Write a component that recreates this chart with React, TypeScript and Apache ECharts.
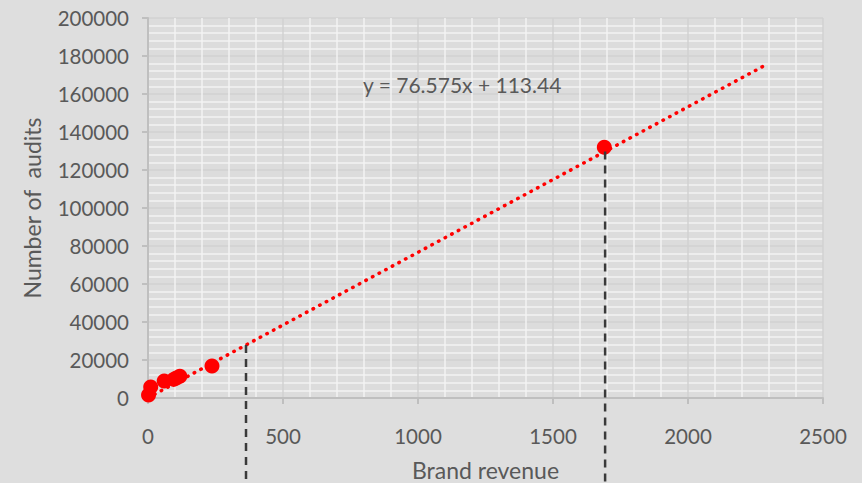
import React, { useEffect, useRef } from "react";
import * as echarts from "echarts";

const brandRevenue = [2, 10, 60, 95, 105, 118, 237, 1690];
const audits = [1600, 5800, 8900, 9800, 10500, 11500, 16800, 132000];
const trendX = [0, 2290];
const trendY = [113, 175470];
const dropX = [363, 1693];
const dropY = [27910, 129760];
const xTicks = { min: 0, max: 2500, interval: 500 };
const yTicks = { min: 0, max: 200000, interval: 20000 };
const equation = "y = 76.575x + 113.44";

const FONT = "Lato";
const TEXT = "#595959";

export default function App() {
  const ref = useRef<HTMLDivElement>(null);
  useEffect(() => {
    document.body.style.margin = "0";
    const chart = echarts.init(ref.current!, null, { renderer: "svg" });
    chart.setOption({
      animation: false,
      backgroundColor: "#dedede",
      grid: {
        left: 148, right: 39, top: 18, bottom: 85,
        outerBoundsMode: "none", containLabel: false,
        show: true, backgroundColor: "#dcdcdc", borderWidth: 0,
      },
      xAxis: {
        type: "value",
        ...xTicks,
        name: "Brand revenue",
        nameLocation: "middle",
        nameGap: 60,
        nameTextStyle: { fontFamily: FONT, fontSize: 23, color: TEXT },
        axisLine: { show: true, lineStyle: { color: "#bfbfbf", width: 2 } },
        axisTick: { show: true, length: 6, lineStyle: { color: "#bfbfbf", width: 2 } },
        axisLabel: { margin: 27, fontFamily: FONT, fontSize: 20.5, color: TEXT, formatter: (v: number) => String(v) },
        splitLine: { show: true, lineStyle: { color: "#d2d2d2", width: 1.5 } },
        minorTick: { show: false, splitNumber: 5 },
        minorSplitLine: { show: true, lineStyle: { color: "#f3f3f3", width: 1.5 } },
      },
      yAxis: {
        type: "value",
        ...yTicks,
        name: "Number of  audits",
        nameLocation: "middle",
        nameGap: 105,
        nameTextStyle: { fontFamily: FONT, fontSize: 23, color: TEXT },
        axisLine: { show: true, lineStyle: { color: "#bfbfbf", width: 2 } },
        axisTick: { show: true, length: 6, lineStyle: { color: "#bfbfbf", width: 2 } },
        axisLabel: { margin: 19, fontFamily: FONT, fontSize: 20.5, color: TEXT, formatter: (v: number) => String(v) },
        splitLine: { show: true, lineStyle: { color: "#d2d2d2", width: 1.5 } },
        minorTick: { show: false, splitNumber: 5 },
        minorSplitLine: { show: true, lineStyle: { color: "#f3f3f3", width: 1.5 } },
      },
      graphic: [
        {
          type: "text",
          left: 363,
          top: 74,
          z: 100,
          style: { text: equation, fontFamily: FONT, fontSize: 21, fill: TEXT },
        },
      ],
      series: [
        {
          type: "line",
          data: trendX.map((x, i) => [x, trendY[i]]),
          showSymbol: false,
          lineStyle: { color: "#ff0000", width: 3.5, type: [0.5, 7], cap: "round" },
          z: 3,
        },
        {
          type: "scatter",
          data: brandRevenue.map((x, i) => [x, audits[i]]),
          symbolSize: 15,
          itemStyle: { color: "#ff0000", opacity: 1 },
          z: 4,
        },
        {
          type: "custom",
          clip: false,
          data: dropX.map((x, i) => [x, dropY[i]]),
          renderItem: (params: any, api: any) => {
            const p = api.coord([api.value(0), api.value(1)]);
            return {
              type: "line",
              shape: { x1: p[0], y1: p[1], x2: p[0], y2: api.getHeight() },
              style: { stroke: "#3a3a3a", lineWidth: 2.5, lineDash: [8, 6] },
            };
          },
          z: 5,
        },
      ],
    });
    return () => chart.dispose();
  }, []);
  return <div ref={ref} style={{ width: 862, height: 483 }} />;
}
